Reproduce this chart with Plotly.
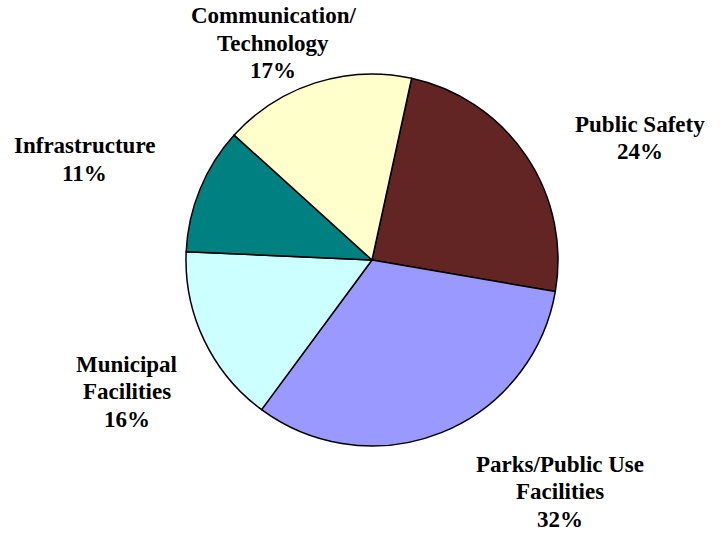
import plotly.graph_objects as go

# Capital spending share by category (percent)
categories = ["Public Safety", "Parks/Public Use Facilities", "Municipal Facilities",
              "Infrastructure", "Communication/Technology"]
shares = [24.3, 32.4, 15.6, 11.0, 16.7]
label_lines = [["Public Safety"], ["Parks/Public Use", "Facilities"], ["Municipal", "Facilities"],
               ["Infrastructure"], ["Communication/", "Technology"]]
colors = ["#632523", "#9999FF", "#CCFFFF", "#008080", "#FFFFCC"]

W, H = 723, 533
LINE_GAP = 27.5
# label centre positions in pixels (x, y of first line)
label_pos = [(640, 125), (560, 465), (127, 365), (84, 147), (273, 17)]

fig = go.Figure(go.Pie(
    labels=categories,
    values=shares,
    sort=False,
    direction="clockwise",
    rotation=12.3,
    marker=dict(colors=colors, line=dict(color="black", width=1.5)),
    textinfo="none",
    hoverinfo="label+percent",
    showlegend=False,
    domain=dict(x=[186 / W, 558 / W], y=[1 - 446 / H, 1 - 74 / H]),
))

total = sum(shares)
for lines, v, (px, py) in zip(label_lines, shares, label_pos):
    rows = lines + [f"{round(100 * v / total)}%"]
    for i, row in enumerate(rows):
        fig.add_annotation(
            x=px / W, y=1 - (py + i * LINE_GAP - 1) / H, xref="paper", yref="paper",
            xanchor="center", yanchor="middle", showarrow=False,
            text=f"<b>{row}</b>", align="center",
            font=dict(family="Times New Roman, Liberation Serif, serif", size=23, color="black"),
        )

fig.update_layout(
    width=W, height=H,
    margin=dict(l=0, r=0, t=0, b=0),
    paper_bgcolor="white", plot_bgcolor="white",
)
fig.write_html("out.html")
